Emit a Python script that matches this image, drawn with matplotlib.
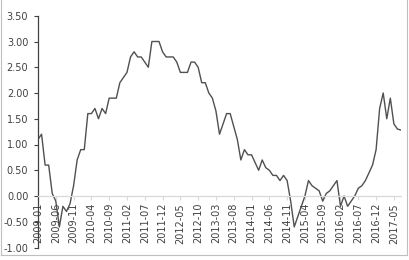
import numpy as np
import pandas as pd
import matplotlib
matplotlib.use("Agg")
import matplotlib.pyplot as plt
from matplotlib.lines import Line2D

# ===== Data ================================================================
# monthly series, 2009-01 .. 2017-07
months = pd.period_range("2009-01", periods=103, freq="M").strftime("%Y-%m")
values = [
    1.10, 1.20, 0.60, 0.60, 0.05, -0.10, -0.60, -0.20, -0.30, -0.15,
    0.20, 0.70, 0.90, 0.90, 1.60, 1.60, 1.70, 1.50, 1.70, 1.60,
    1.90, 1.90, 1.90, 2.20, 2.30, 2.40, 2.70, 2.80, 2.70, 2.70,
    2.60, 2.50, 3.00, 3.00, 3.00, 2.80, 2.70, 2.70, 2.70, 2.60,
    2.40, 2.40, 2.40, 2.60, 2.60, 2.50, 2.20, 2.20, 2.00, 1.90,
    1.65, 1.20, 1.40, 1.60, 1.60, 1.35, 1.10, 0.70, 0.90, 0.80,
    0.80, 0.65, 0.50, 0.70, 0.55, 0.50, 0.40, 0.40, 0.30, 0.40,
    0.30, -0.10, -0.60, -0.40, -0.20, 0.00, 0.30, 0.20, 0.15, 0.10,
    -0.10, 0.05, 0.10, 0.20, 0.30, -0.20, 0.00, -0.20, -0.10, 0.00,
    0.15, 0.20, 0.30, 0.45, 0.60, 0.90, 1.70, 2.00, 1.50, 1.90,
    1.40, 1.30, 1.28,
]
y_ticks = [-1.0, -0.5, 0.0, 0.5, 1.0, 1.5, 2.0, 2.5, 3.0, 3.5]
LABEL_STEP = 5

# ===== Plotting ============================================================
W, H = 410, 260
fig = plt.figure(figsize=(W / 100, H / 100), dpi=100)
fig.patch.set_facecolor("white")

x0, x1 = 38, 401
ytop, ybot = 15.75, 247.5
ax = fig.add_axes([x0 / W, (H - ybot) / H, (x1 - x0) / W, (ybot - ytop) / H])

x = np.arange(len(values))
ax.plot(x, values, color="#505050", lw=1.0)

ax.set_xlim(0, len(values) - 1)
ax.set_ylim(-1, 3.5)

# y axis
ax.set_yticks(y_ticks)
ax.set_yticklabels([f"{v:.2f}" for v in y_ticks])
ax.tick_params(axis="y", direction="out", length=3, width=0.8,
               color="#404040", labelsize=7, labelcolor="#404040", pad=4)
ax.spines["left"].set_color("#404040")
ax.spines["left"].set_linewidth(0.9)

# x axis sits on zero
ax.spines["bottom"].set_position(("data", 0))
ax.spines["bottom"].set_color("#d9d9d9")
ax.spines["bottom"].set_linewidth(0.9)
ticks = x[::LABEL_STEP]
ax.set_xticks(ticks)
ax.set_xticklabels([months[i] for i in ticks], rotation=90)
ax.tick_params(axis="x", direction="out", length=3, width=0.8,
               color="#d9d9d9", labelsize=7, labelcolor="#404040", pad=2)

ax.spines["top"].set_visible(False)
ax.spines["right"].set_visible(False)

# chart area border
bc = "#bfbfbf"
fig.add_artist(Line2D([1.5 / W, 1.5 / W], [(H - 255) / H, 1], color=bc, lw=0.8))
fig.add_artist(Line2D([407 / W, 407 / W], [(H - 255) / H, 1], color=bc, lw=0.8))
fig.add_artist(Line2D([1.5 / W, 407 / W], [(H - 255) / H, (H - 255) / H], color=bc, lw=0.8))

fig.savefig("out.png", dpi=100)
